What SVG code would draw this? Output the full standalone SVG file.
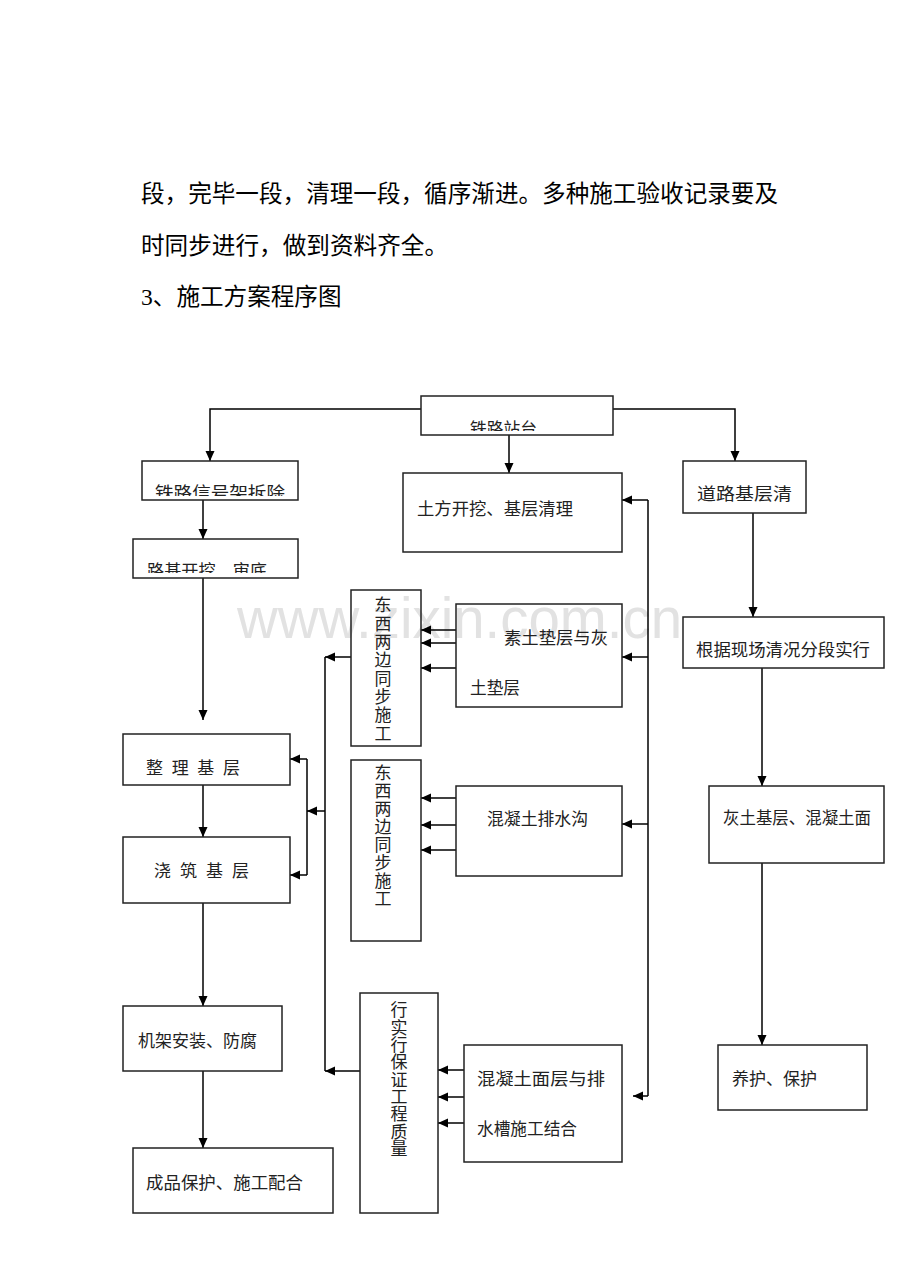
<svg xmlns="http://www.w3.org/2000/svg" width="920" height="1274" viewBox="0 0 920 1274">
<style>
.box{fill:none;stroke:#222;stroke-width:1.5}
.ln{fill:none;stroke:#000;stroke-width:1.5}
.ar{fill:none;stroke:#000;stroke-width:1.5;marker-end:url(#ah)}
.t{font-family:"Noto Sans CJK SC","Noto Sans CJK JP",sans-serif;font-size:17px;fill:#222}
.v{font-family:"Noto Sans CJK SC","Noto Sans CJK JP",sans-serif;font-size:17px;fill:#222;writing-mode:vertical-rl}
.p{font-family:"Liberation Serif","Noto Sans CJK SC",serif;font-size:23.6px;fill:#000}
.wm{font-family:"Liberation Sans",Arial,sans-serif;font-size:58px;fill:#e2e2e2}
</style>
<defs>
<marker id="ah" markerUnits="userSpaceOnUse" markerWidth="11" markerHeight="10" refX="10" refY="4.5" orient="auto">
<path d="M0,0 L10,4.5 L0,9 z" fill="#000"/>
</marker>
<clipPath id="c1"><rect x="421" y="396" width="192" height="35"/></clipPath>
<clipPath id="c2"><rect x="142" y="461" width="156" height="35"/></clipPath>
<clipPath id="c3"><rect x="133" y="539" width="165" height="34"/></clipPath>
</defs>
<rect width="920" height="1274" fill="#fff"/>
<g id="paragraph">
<text class="p" x="141" y="202" textLength="637" lengthAdjust="spacingAndGlyphs">段，完毕一段，清理一段，循序渐进。多种施工验收记录要及</text>
<text class="p" x="141" y="254" textLength="307" lengthAdjust="spacingAndGlyphs">时同步进行，做到资料齐全。</text>
<text class="p" x="141" y="305">3、施工方案程序图</text>
</g>
<text class="wm" x="237" y="638" textLength="445" lengthAdjust="spacingAndGlyphs">www.zixin.com.cn</text>
<g id="connectors">
<path class="ar" d="M421,409 H210 V461"/>
<path class="ar" d="M613,409 H735 V461"/>
<path class="ar" d="M509,435 V473"/>
<path class="ar" d="M203,500 V539"/>
<path class="ar" d="M203,578 V720"/>
<path class="ar" d="M203,785 V837"/>
<path class="ar" d="M203,903 V1006"/>
<path class="ar" d="M203,1071 V1148"/>
<path class="ar" d="M753,513 V617"/>
<path class="ar" d="M762,668 V786"/>
<path class="ar" d="M762,863 V1045"/>
<path class="ln" d="M648,500 V1096"/>
<path class="ar" d="M648,500 H622"/>
<path class="ar" d="M648,657 H622"/>
<path class="ar" d="M648,824 H622"/>
<path class="ar" d="M648,1096 H633"/>
<path class="ar" d="M456,630 H421"/>
<path class="ar" d="M456,643 H421"/>
<path class="ar" d="M456,668 H421"/>
<path class="ar" d="M456,798 H421"/>
<path class="ar" d="M456,825 H421"/>
<path class="ar" d="M456,850 H421"/>
<path class="ar" d="M464,1070 H438"/>
<path class="ar" d="M464,1097 H438"/>
<path class="ar" d="M464,1123 H438"/>
<path class="ln" d="M325,657 V1071"/>
<path class="ar" d="M351,657 H325"/>
<path class="ar" d="M360,1071 H325"/>
<path class="ar" d="M325,811 H307"/>
<path class="ln" d="M307,759 V875"/>
<path class="ar" d="M307,759 H290"/>
<path class="ar" d="M307,875 H290"/>
</g>
<g id="n-station">
<rect class="box" x="421" y="396" width="192" height="39"/>
<text class="t" x="470" y="435" font-size="15" textLength="67" lengthAdjust="spacingAndGlyphs" clip-path="url(#c1)">铁路站台</text>
</g>
<g id="n-signal">
<rect class="box" x="142" y="461" width="156" height="39"/>
<text class="t" x="155" y="499" font-size="16" textLength="130" lengthAdjust="spacingAndGlyphs" clip-path="url(#c2)">铁路信号架拆除</text>
</g>
<g id="n-subgrade">
<rect class="box" x="133" y="539" width="165" height="39"/>
<text class="t" x="147" y="577" font-size="16" textLength="120" lengthAdjust="spacingAndGlyphs" clip-path="url(#c3)">路基开挖、审底</text>
</g>
<g id="n-earth">
<rect class="box" x="403" y="473" width="219" height="79"/>
<text class="t" x="417" y="514.5" textLength="156" lengthAdjust="spacingAndGlyphs">土方开挖、基层清理</text>
</g>
<g id="n-road">
<rect class="box" x="683" y="461" width="123" height="52"/>
<text class="t" x="697" y="500" font-size="16" textLength="95" lengthAdjust="spacingAndGlyphs">道路基层清</text>
</g>
<g id="n-site">
<rect class="box" x="683" y="617" width="201" height="51"/>
<text class="t" x="696" y="655.5" textLength="174" lengthAdjust="spacingAndGlyphs">根据现场清况分段实行</text>
</g>
<g id="n-lime">
<rect class="box" x="709" y="786" width="175" height="77"/>
<text class="t" x="723" y="824" font-size="16.5" textLength="148" lengthAdjust="spacingAndGlyphs">灰土基层、混凝土面</text>
</g>
<g id="n-cure">
<rect class="box" x="718" y="1045" width="149" height="65"/>
<text class="t" x="732" y="1084.5" textLength="85" lengthAdjust="spacingAndGlyphs">养护、保护</text>
</g>
<g id="n-sync1">
<rect class="box" x="351" y="590" width="70" height="156"/>
<text class="v" x="383" y="596.5" letter-spacing="1.3">东西两边同步施工</text>
</g>
<g id="n-sync2">
<rect class="box" x="351" y="760" width="70" height="181"/>
<text class="v" x="383" y="764.5" letter-spacing="0.9">东西两边同步施工</text>
</g>
<g id="n-quality">
<rect class="box" x="360" y="993" width="78" height="220"/>
<text class="v" x="399" y="1001.5" letter-spacing="0.3">行实行保证工程质量</text>
</g>
<g id="n-cushion">
<rect class="box" x="456" y="604" width="166" height="103"/>
<text class="t" x="504" y="643.5" textLength="104" lengthAdjust="spacingAndGlyphs">素土垫层与灰</text>
<text class="t" x="470" y="693.5" textLength="50" lengthAdjust="spacingAndGlyphs">土垫层</text>
</g>
<g id="n-ditch">
<rect class="box" x="456" y="786" width="166" height="90"/>
<text class="t" x="487" y="824.5" textLength="101" lengthAdjust="spacingAndGlyphs">混凝土排水沟</text>
</g>
<g id="n-surface">
<rect class="box" x="464" y="1045" width="158" height="117"/>
<text class="t" x="477" y="1084.5" textLength="128" lengthAdjust="spacingAndGlyphs">混凝土面层与排</text>
<text class="t" x="477" y="1134.5" textLength="100" lengthAdjust="spacingAndGlyphs">水槽施工结合</text>
</g>
<g id="n-tidy">
<rect class="box" x="123" y="734" width="167" height="51"/>
<text class="t" x="146" y="773.5" textLength="94" lengthAdjust="spacing">整理基层</text>
</g>
<g id="n-pour">
<rect class="box" x="123" y="837" width="167" height="66"/>
<text class="t" x="154" y="876.5" textLength="95" lengthAdjust="spacing">浇筑基层</text>
</g>
<g id="n-frame">
<rect class="box" x="123" y="1006" width="159" height="65"/>
<text class="t" x="138" y="1046.5" textLength="119" lengthAdjust="spacingAndGlyphs">机架安装、防腐</text>
</g>
<g id="n-protect">
<rect class="box" x="133" y="1148" width="200" height="65"/>
<text class="t" x="146" y="1188.5" textLength="157" lengthAdjust="spacingAndGlyphs">成品保护、施工配合</text>
</g>
</svg>
